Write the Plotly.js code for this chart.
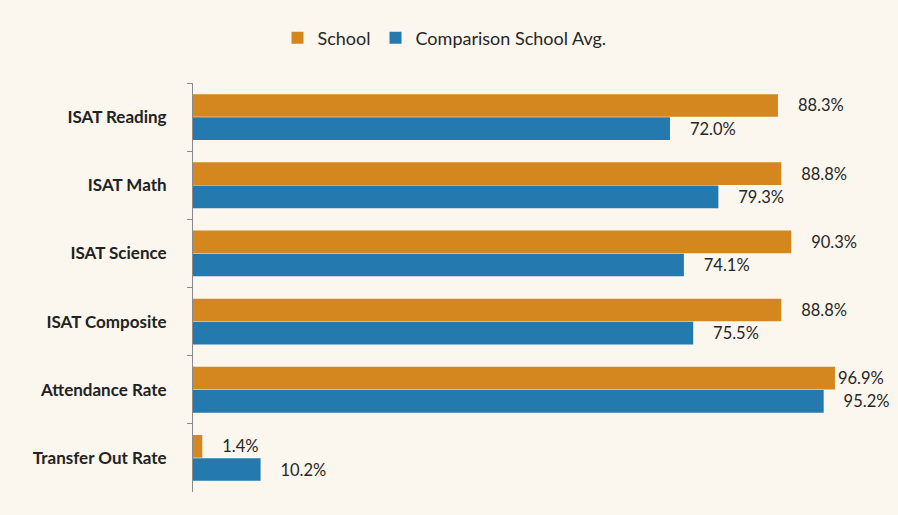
<!DOCTYPE html>
<html>
<head>
<meta charset="utf-8">
<script src="https://cdn.plot.ly/plotly-3.0.1.min.js"></script>
<style>html,body{margin:0;padding:0;background:#fbf6ee;}#chart{width:898px;height:515px;}</style>
</head>
<body>
<div id="chart"></div>
<script>
const categories = ["ISAT Reading", "ISAT Math", "ISAT Science", "ISAT Composite", "Attendance Rate", "Transfer Out Rate"];
const schoolValues = [88.3, 88.8, 90.3, 88.8, 96.9, 1.4];
const comparisonValues = [72.0, 79.3, 74.1, 75.5, 95.2, 10.2];
const seriesNames = ["School", "Comparison School Avg."];

const labelFont = {family: "Lato, 'Open Sans', sans-serif", size: 16.5, color: "#262626"};
// label padding: the long bar's label sits tight against its bar, as in the reference
const pad = v => (v > 95 ? "%{text}" : "    %{text}");

const traces = [
  {
    type: "bar", orientation: "h", name: seriesNames[0],
    y: categories, x: schoolValues,
    marker: {color: "#d4871e"},
    text: schoolValues.map(v => v.toFixed(1) + "%"),
    texttemplate: schoolValues.map(pad),
    textposition: "outside", cliponaxis: false,
    textfont: labelFont, hoverinfo: "x+y"
  },
  {
    type: "bar", orientation: "h", name: seriesNames[1],
    y: categories, x: comparisonValues,
    marker: {color: "#2479ae"},
    text: comparisonValues.map(v => v.toFixed(1) + "%"),
    texttemplate: comparisonValues.map(v => "    %{text}"),
    textposition: "outside", cliponaxis: false,
    textfont: labelFont, hoverinfo: "x+y"
  }
];

const layout = {
  width: 898, height: 515,
  paper_bgcolor: "#fbf6ee", plot_bgcolor: "#fbf6ee",
  margin: {l: 193, r: 18, t: 83, b: 23},
  barmode: "group", bargap: 0.32, bargroupgap: 0.02,
  showlegend: true,
  legend: {
    orientation: "h", xref: "container", x: 0.495, xanchor: "center",
    yref: "container", y: 0.926, yanchor: "middle",
    font: {family: "Lato, 'Open Sans', sans-serif", size: 18, color: "#262626"},
    bgcolor: "rgba(0,0,0,0)", itemwidth: 30, traceorder: "normal"
  },
  xaxis: {
    range: [0, 103.7], showgrid: false, zeroline: false,
    showticklabels: false, ticks: "", showline: false, fixedrange: true
  },
  yaxis: {
    autorange: "reversed", type: "category",
    showline: true, linecolor: "#8a8a8a", linewidth: 1,
    ticks: "outside", tickson: "boundaries", ticklen: 5, tickcolor: "#8a8a8a",
    ticklabelstandoff: 22,
    tickfont: {family: "Lato, 'Open Sans', sans-serif", size: 17, color: "#222222", weight: "bold"},
    showgrid: false, zeroline: false, fixedrange: true
  }
};

Plotly.newPlot("chart", traces, layout, {displayModeBar: false, staticPlot: true});
</script>
</body>
</html>
